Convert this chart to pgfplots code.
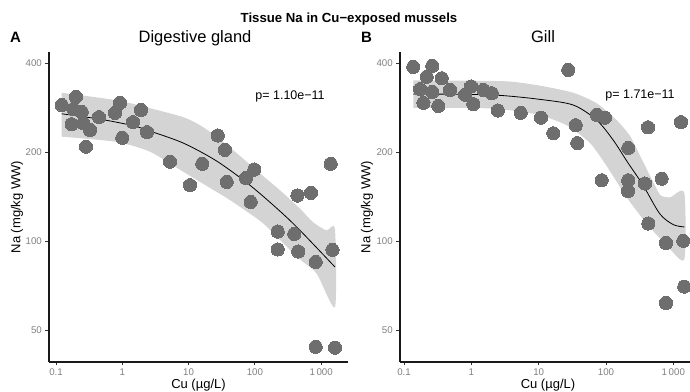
\documentclass[border=0pt]{standalone}
\usepackage{fontspec}
\setmainfont{Liberation Sans}
\usepackage{pgfplots}
\usepackage{pgfplotstable}
\pgfplotsset{compat=1.18}

\definecolor{ptgrey}{gray}{0.43}
\definecolor{bandgrey}{gray}{0.83}
\definecolor{ticklab}{gray}{0.5}

% Digestive gland points
\pgfplotstableread{
x y
0.122 289
0.200 308
0.172 249
0.182 280
0.244 274
0.258 251
0.326 238
0.283 209
0.445 263
0.776 272
0.923 294
1.00 224
1.45 253
1.91 278
2.36 234
5.24 186
10.5 155
16.1 183
27.5 228
35.4 204
37.6 159
73.5 164
86.4 136
98 175
439 143
702 146
1390 183
221 108
221 94
393 106
451 92.5
826 85.3
1480 93.7
826 44.1
1615 43.8
}\dgpts

\pgfplotstableread{
x y
0.122 270
0.46 259
1.47 246
2.62 236
8.32 215
26.5 187
84 155
239 126.6
480 109
1615 82
}\dgfit

% band: upper edge left to right, then lower edge right to left
\pgfplotstableread{
x y
0.122 318
0.823 300
2.62 282
8.32 263
14.9 247
26.5 226
53 199
119 170
239 149
480 129
760 116
1200 109
1615 110
1615 60
850 78
425 89
134 115
42 138
26.5 147
8.32 172
2.62 201
0.823 217
0.122 226
}\dgband

% Gill points
\pgfplotstableread{
x y
0.137 389
0.263 392
0.217 360
0.363 356
0.173 327
0.263 320
0.194 294
0.323 287
0.482 325
0.805 313
0.989 334
1.07 291
1.51 325
2.01 317
2.47 277
5.41 272
10.8 262
16.5 232
27.5 380
35.5 247
37.5 215
72.8 268
96.7 262
86.3 161
214 207
214 161
212 148
379 157
671 163
421 243
1300 253
425 115
778 98.9
1405 100.5
1455 70.4
778 62
}\gpts

\pgfplotstableread{
x y
0.137 315
1 314
3 311
10.5 302
32.7 289
72.8 257
128 220
210 185
355 155
630 124
1000 114
1455 112
}\gfit

\pgfplotstableread{
x y
0.137 350
3 348
10.5 336
32.7 318
72.8 293
144 257
228 227
320 195
405 175
530 155
650 143
900 141
1455 146
1455 87
800 97
400 115
203 141
102 180
58 215
26 247
10.5 267
4 277
1.5 282
0.137 283
}\gband

\begin{document}
\begin{tikzpicture}
\useasboundingbox (0pt,0pt) rectangle (690pt,391pt);

\begin{loglogaxis}[
  scale only axis, height=309.7pt, width=298.7pt,
  at={(48.85pt,29.1pt)}, anchor=south west,
  xmin=0.078, xmax=2500, ymin=39.2, ymax=436,
  axis lines*=left,
  axis line style={line width=1.8pt, black!90},
  xtick={0.1,1,10,100,1000}, xticklabels={0.1,1,10,100,1\,000},
  ytick={50,100,200,400}, yticklabels={50,100,200,400},
  minor tick length=0pt,
  tick align=outside, major tick length=3.5pt,
  tick style={line width=0.8pt, black!80},
  tick label style={font=\fontsize{9.7}{11}\selectfont, text=ticklab},
  /pgf/number format/assume math mode=true,
]
\addplot[fill=bandgrey, draw=none, smooth, tension=0.4] table {\dgband} -- cycle;
\addplot[only marks, ptgrey, mark=*, mark size=6.6pt, mark options={fill=ptgrey, draw=ptgrey, line width=0pt}] table {\dgpts};
\addplot[black, line width=0.8pt, smooth] table {\dgfit};
\end{loglogaxis}

\begin{loglogaxis}[
  scale only axis, height=309.7pt, width=290.2pt,
  at={(399.8pt,29.1pt)}, anchor=south west,
  xmin=0.0865, xmax=1770, ymin=39.2, ymax=436,
  axis lines*=left,
  axis line style={line width=1.8pt, black!90},
  xtick={0.1,1,10,100,1000}, xticklabels={0.1,1,10,100,1\,000},
  ytick={50,100,200,400}, yticklabels={50,100,200,400},
  minor tick length=0pt,
  tick align=outside, major tick length=3.5pt,
  tick style={line width=0.8pt, black!80},
  tick label style={font=\fontsize{9.7}{11}\selectfont, text=ticklab},
  /pgf/number format/assume math mode=true,
]
\addplot[fill=bandgrey, draw=none, smooth, tension=0.4] table {\gband} -- cycle;
\addplot[only marks, ptgrey, mark=*, mark size=6.6pt, mark options={fill=ptgrey, draw=ptgrey, line width=0pt}] table {\gpts};
\addplot[black, line width=0.8pt, smooth] table {\gfit};
\end{loglogaxis}

% titles
\node[anchor=base, font=\bfseries\fontsize{13.2}{15}\selectfont] at (349pt,368.5pt) {Tissue Na in Cu−exposed mussels};
\node[anchor=base west, inner sep=0pt, font=\bfseries\fontsize{15}{18}\selectfont] at (10pt,348pt) {A};
\node[anchor=base, font=\fontsize{16.5}{19}\selectfont] at (195pt,348pt) {Digestive gland};
\node[anchor=base west, inner sep=0pt, font=\bfseries\fontsize{15}{18}\selectfont] at (361pt,348pt) {B};
\node[anchor=base, font=\fontsize{16.5}{19}\selectfont] at (543pt,348pt) {Gill};

% p-values
\node[anchor=base, font=\fontsize{12.5}{15}\selectfont] at (290pt,291.7pt) {p= 1.10e−11};
\node[anchor=base, font=\fontsize{12.5}{15}\selectfont] at (640pt,292.7pt) {p= 1.71e−11};

% axis labels
\node[anchor=base, font=\fontsize{13}{15}\selectfont] at (198.5pt,3pt) {Cu (µg/L)};
\node[anchor=base, font=\fontsize{13}{15}\selectfont] at (548pt,3pt) {Cu (µg/L)};
\node[rotate=90, font=\fontsize{13}{15}\selectfont] at (17pt,184pt) {Na (mg/kg WW)};
\node[rotate=90, font=\fontsize{13}{15}\selectfont] at (367pt,184pt) {Na (mg/kg WW)};
\end{tikzpicture}
\end{document}
